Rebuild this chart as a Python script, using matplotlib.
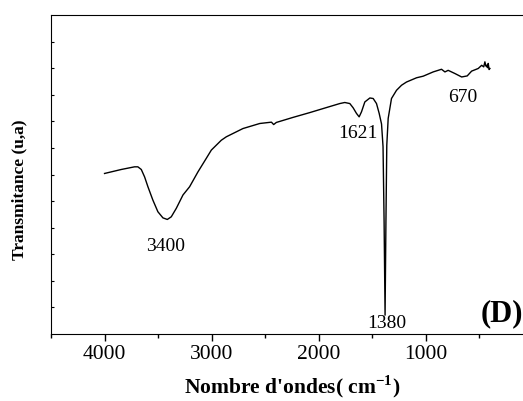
import matplotlib
matplotlib.use("Agg")
import matplotlib.pyplot as plt
from matplotlib.ticker import MultipleLocator

plt.rcParams['font.family'] = ['Liberation Serif', 'DejaVu Serif']
plt.rcParams['mathtext.fontset'] = 'custom'
plt.rcParams['mathtext.rm'] = 'Liberation Serif:bold'
plt.rcParams['mathtext.bf'] = 'Liberation Serif:bold'

# FTIR spectrum (arbitrary transmittance units)
wavenumber = [4000, 3844, 3720, 3689, 3657, 3626, 3595, 3549, 3502, 3455, 3414,
              3377, 3330, 3268, 3206, 3128, 3050, 3003, 2910, 2863, 2708, 2551,
              2442, 2421, 2396, 2240, 2084, 1928, 1804, 1757, 1710, 1679, 1648,
              1623, 1601, 1570, 1523, 1492, 1461, 1436, 1414, 1400, 1390, 1381,
              1373, 1365, 1352, 1321, 1274, 1227, 1181, 1087, 1025, 932, 854,
              822, 792, 729, 666, 614, 573, 511, 479, 460, 449, 440, 433, 425,
              418, 410, 402]
transmittance = [6.04, 6.19, 6.29, 6.29, 6.19, 5.91, 5.54, 5.04, 4.60, 4.37, 4.31,
                 4.41, 4.73, 5.23, 5.54, 6.10, 6.61, 6.92, 7.29, 7.42, 7.73, 7.92,
                 7.97, 7.88, 7.96, 8.15, 8.33, 8.52, 8.67, 8.71, 8.67, 8.51, 8.30,
                 8.17, 8.36, 8.73, 8.88, 8.86, 8.67, 8.30, 7.90, 7.05, 4.2, 0.71,
                 4.2, 7.1, 8.11, 8.86, 9.17, 9.36, 9.48, 9.64, 9.70, 9.86, 9.96,
                 9.86, 9.92, 9.80, 9.67, 9.71, 9.89, 9.99, 10.11, 10.05, 10.24, 10.08,
                 10.11, 10.02, 10.18, 9.95, 9.99]

peak_labels = ["3400", "1621", "1380", "670"]
peak_label_x = [3433, 1635, 1367, 657]
peak_label_y = [3.30, 7.55, 0.38, 8.90]

xticks = [4000, 3000, 2000, 1000]

fig = plt.figure(figsize=(5.23, 4.01), dpi=100)
ax = fig.add_axes([0.0975, 0.167, 0.9216, 0.7955])

ax.plot(wavenumber, transmittance, color='black', lw=1.0)

ax.set_xlim(4500, 0)
ax.set_ylim(0, 12)
ax.set_xticks(xticks)
ax.set_xticklabels([str(t) for t in xticks])
ax.xaxis.set_minor_locator(MultipleLocator(500))
ax.set_yticks(range(1, 12))
ax.set_yticklabels([])

ax.tick_params(axis='x', which='major', direction='out', length=5, width=1,
               labelsize=15.5, pad=3)
ax.tick_params(axis='x', which='minor', direction='out', length=3, width=1)
ax.tick_params(axis='y', which='major', direction='in', length=2.5, width=0.8)
ax.spines['right'].set_visible(False)

for lab, x, y in zip(peak_labels, peak_label_x, peak_label_y):
    ax.text(x, y, lab, ha='center', va='center', fontsize=14)

ax.text(486, 0.78, "(D)", ha='left', va='center', fontsize=22, fontweight='bold',
        clip_on=False)

ax.set_xlabel(r"Nombre d'ondes( cm$^{\mathbf{-1}}$)", fontsize=15.5,
              fontweight='bold', labelpad=7)
ax.set_ylabel("Transmitance (u,a)", fontsize=12.5, fontweight='bold')
ax.yaxis.set_label_coords(-0.05, 0.451)

fig.savefig("out.png", dpi=100)
